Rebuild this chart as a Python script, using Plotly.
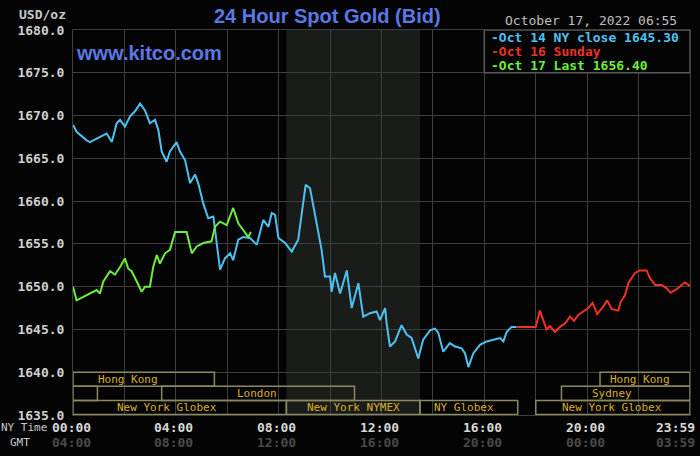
import plotly.graph_objects as go

# hours since midnight (NY time) and bid price
oct14_hours = [0.0, 0.14, 0.53, 0.66, 0.92, 1.31, 1.51, 1.70, 1.83, 2.02, 2.22, 2.41, 2.61, 2.80, 2.99,
               3.19, 3.32, 3.45, 3.64, 3.77, 4.03, 4.16, 4.36, 4.55, 4.75, 4.87, 5.07, 5.26, 5.46, 5.59,
               5.72, 5.91, 6.11, 6.23, 6.43, 6.62, 6.88, 7.15, 7.40, 7.60, 7.73, 7.86, 7.99, 8.25, 8.51,
               8.76, 8.90, 9.05, 9.22, 9.35, 9.54, 9.67, 9.80, 10.00, 10.06, 10.19, 10.39, 10.65, 10.84,
               11.10, 11.29, 11.55, 11.81, 11.94, 12.14, 12.20, 12.33, 12.53, 12.78, 12.98, 13.17, 13.43,
               13.62, 13.89, 14.08, 14.21, 14.40, 14.66, 14.86, 15.12, 15.25, 15.38, 15.57, 15.83, 16.09,
               16.35, 16.61, 16.74, 16.87, 17.06, 17.25]
oct14_bid = [1668.9, 1668.1, 1667.1, 1666.9, 1667.3, 1667.9, 1666.9, 1669.1, 1669.5, 1668.7, 1669.9,
             1670.5, 1671.4, 1670.6, 1669.1, 1669.5, 1668.3, 1665.8, 1664.6, 1665.8, 1666.9, 1665.8,
             1664.8, 1662.1, 1663.1, 1662.1, 1659.7, 1658.0, 1658.2, 1655.1, 1652.0, 1653.3, 1653.9,
             1653.1, 1655.5, 1655.8, 1655.7, 1654.9, 1657.8, 1657.0, 1658.6, 1658.4, 1655.7, 1655.1,
             1654.1, 1655.5, 1658.6, 1661.9, 1661.5, 1659.4, 1656.6, 1654.3, 1651.2, 1651.2, 1649.4,
             1651.6, 1649.2, 1651.9, 1647.5, 1650.4, 1646.5, 1646.9, 1647.1, 1646.1, 1647.5, 1645.7,
             1643.0, 1643.6, 1645.5, 1644.4, 1644.0, 1641.6, 1643.8, 1644.9, 1645.1, 1644.6, 1642.4,
             1643.4, 1643.0, 1642.8, 1642.2, 1640.6, 1642.2, 1643.2, 1643.6, 1643.8, 1644.0, 1643.6,
             1644.7, 1645.3, 1645.3]

oct16_hours = [17.25, 18.0, 18.16, 18.29, 18.42, 18.55, 18.75, 18.94, 19.14, 19.33, 19.49, 19.65, 19.85,
               20.04, 20.21, 20.39, 20.63, 20.78, 20.95, 21.21, 21.30, 21.47, 21.60, 21.86, 22.05, 22.31,
               22.44, 22.64, 22.90, 23.09, 23.25, 23.48, 23.80, 24.0]
oct16_bid = [1645.3, 1645.3, 1647.2, 1646.1, 1645.0, 1645.4, 1644.7, 1645.3, 1645.7, 1646.5, 1646.0,
             1646.7, 1647.1, 1647.5, 1648.1, 1646.8, 1647.7, 1648.4, 1647.4, 1647.2, 1648.2, 1649.0,
             1650.4, 1651.6, 1651.9, 1651.9, 1651.0, 1650.2, 1650.2, 1649.8, 1649.3, 1649.7, 1650.5,
             1650.1]

oct17_hours = [0.0, 0.14, 0.40, 0.66, 0.92, 1.05, 1.18, 1.44, 1.63, 1.83, 2.02, 2.15, 2.28, 2.48, 2.67,
               2.80, 2.99, 3.12, 3.26, 3.38, 3.58, 3.77, 3.97, 4.16, 4.42, 4.62, 4.81, 5.07, 5.39, 5.52,
               5.72, 5.98, 6.23, 6.43, 6.62, 6.82, 6.92]
oct17_bid = [1650.0, 1648.4, 1648.8, 1649.2, 1649.6, 1649.2, 1650.6, 1651.8, 1651.4, 1652.3, 1653.3,
             1652.1, 1651.8, 1650.6, 1649.4, 1650.0, 1650.0, 1652.3, 1653.7, 1652.7, 1653.9, 1654.3,
             1656.4, 1656.4, 1656.4, 1653.9, 1654.7, 1655.1, 1655.3, 1657.0, 1657.6, 1657.2, 1659.2,
             1657.4, 1656.6, 1655.8, 1656.4]

series_names = ["Oct 14 NY close 1645.30", "Oct 16 Sunday", "Oct 17 Last 1656.40"]
series_colors = ["#4cc2f2", "#ee3322", "#6cee3c"]

ny_time_hours = [0, 4, 8, 12, 16, 20, 24]
ny_time_labels = ["00:00", "04:00", "08:00", "12:00", "16:00", "20:00", "23:59"]
gmt_labels = ["04:00", "08:00", "12:00", "16:00", "20:00", "00:00", "03:59"]

# trading sessions shown in the strip at the bottom
session_rows = [0, 0, 1, 1, 1, 2, 2, 2, 2]
session_start = [0, 20.5, 0, 3.45, 19.0, 0, 8.3, 13.5, 18.0]
session_end = [5.5, 24, 0.95, 10.95, 24, 8.3, 13.5, 17.3, 24]
session_names = ["Hong Kong", "Hong Kong", "", "London", "Sydney",
                 "New York Globex", "New York NYMEX", "NY Globex", "New York Globex"]
session_label_at = [2.12, 22.05, 0, 7.16, 20.96, 3.66, 10.9, 15.2, 20.96]

nymex_open, nymex_close = 8.3, 13.5

mono = "DejaVu Sans Mono"
fig = go.Figure()

# COMEX pit hours shading
fig.add_shape(type="rect", x0=nymex_open, x1=nymex_close, y0=1635, y1=1680,
              fillcolor="#1a1c1a", line_width=0, layer="below")

for hrs, bids, color in zip([oct14_hours, oct16_hours, oct17_hours],
                            [oct14_bid, oct16_bid, oct17_bid], series_colors):
    fig.add_trace(go.Scatter(x=hrs, y=bids, mode="lines",
                             line=dict(color=color, width=2), hoverinfo="skip"))

row_h = 1.65
for r, s, e, name, at in zip(session_rows, session_start, session_end, session_names, session_label_at):
    top = 1640 - r * row_h
    fig.add_shape(type="rect", x0=s, x1=e, y0=top - row_h, y1=top,
                  line=dict(color="#8c8a5c", width=1.5), fillcolor="rgba(0,0,0,0)")
    if name:
        fig.add_annotation(x=at, y=top - row_h / 2, text=name, showarrow=False,
                           font=dict(family=mono, size=11, color="#d9b02a"))

# legend box
fig.add_shape(type="rect", x0=16, x1=24, y0=1675, y1=1680, fillcolor="#040404",
              line=dict(color="#5a5a5a", width=1.5), layer="above")
for i, (name, color) in enumerate(zip(series_names, series_colors)):
    fig.add_annotation(x=16.2, y=1680 - (i + 0.5) * 5 / 3, text="-" + name, showarrow=False,
                       xanchor="left", font=dict(family=mono, size=13, color=color, weight="bold"))

# time labels
for h, ny, gmt in zip(ny_time_hours, ny_time_labels, gmt_labels):
    anchor = "right" if h == 24 else "center"
    shift = 7 if h == 24 else -2
    fig.add_annotation(x=h, y=0, xref="x", yref="paper", text=ny, showarrow=False,
                       xanchor=anchor, xshift=shift, yshift=-12, yanchor="middle",
                       font=dict(family=mono, size=13, color="#d8d8d8", weight="bold"))
    fig.add_annotation(x=h, y=0, xref="x", yref="paper", text=gmt, showarrow=False,
                       xanchor=anchor, xshift=shift, yshift=-27, yanchor="middle",
                       font=dict(family=mono, size=13, color="#4a4a4a", weight="bold"))
fig.add_annotation(x=0, y=0, xref="paper", yref="paper", text="NY Time", showarrow=False,
                   xanchor="right", xshift=-24, yshift=-12, yanchor="middle",
                   font=dict(family=mono, size=11, color="#c8c8c8"))
fig.add_annotation(x=0, y=0, xref="paper", yref="paper", text="GMT", showarrow=False,
                   xanchor="center", xshift=-53, yshift=-27, yanchor="middle",
                   font=dict(family=mono, size=11, color="#c8c8c8"))

fig.add_annotation(x=0, y=1, xref="paper", yref="paper", text="USD/oz", showarrow=False,
                   xanchor="right", xshift=-5, yanchor="bottom", yshift=6,
                   font=dict(family=mono, size=13, color="#c8c8c8", weight="bold"))
fig.add_annotation(x=0.4117, y=1, xref="paper", yref="paper", text="24 Hour Spot Gold (Bid)",
                   showarrow=False, yanchor="bottom", yshift=1,
                   font=dict(family="Liberation Sans", size=20, color="#5a78e6", weight="bold"))
fig.add_annotation(x=1, y=1, xref="paper", yref="paper", text="October 17, 2022 06:55",
                   showarrow=False, xanchor="right", xshift=-11, yanchor="bottom",
                   font=dict(family=mono, size=13, color="#c0c0c0"))
fig.add_annotation(x=0, y=0.94, xref="paper", yref="paper", text="www.kitco.com",
                   showarrow=False, xanchor="left", xshift=1, yanchor="middle",
                   font=dict(family="Liberation Sans", size=20, color="#5a78e6", weight="bold"))

fig.update_xaxes(range=[0, 24], dtick=2, showticklabels=False, showgrid=True,
                 gridcolor="#3e3e3e", gridwidth=1, zeroline=False,
                 showline=True, mirror=True, linecolor="#3e3e3e", linewidth=1)
fig.update_yaxes(range=[1635, 1680], dtick=5, tickformat=".1f", showgrid=True,
                 gridcolor="#3e3e3e", gridwidth=1, zeroline=False, ticks="",
                 ticklabelstandoff=5, showline=True, mirror=True, linecolor="#3e3e3e",
                 tickfont=dict(family=mono, size=13, color="#d0d0d0", weight="bold"))
fig.update_layout(width=700, height=456, margin=dict(l=73, r=10, t=30, b=41),
                  paper_bgcolor="#040404", plot_bgcolor="#040404", showlegend=False)

# the page's default 8px body margin would push the chart off the window
fig.write_html("out.html", config={"displayModeBar": False},
               post_script="document.body.style.margin='0';"
                           "document.body.style.background='#040404';")
